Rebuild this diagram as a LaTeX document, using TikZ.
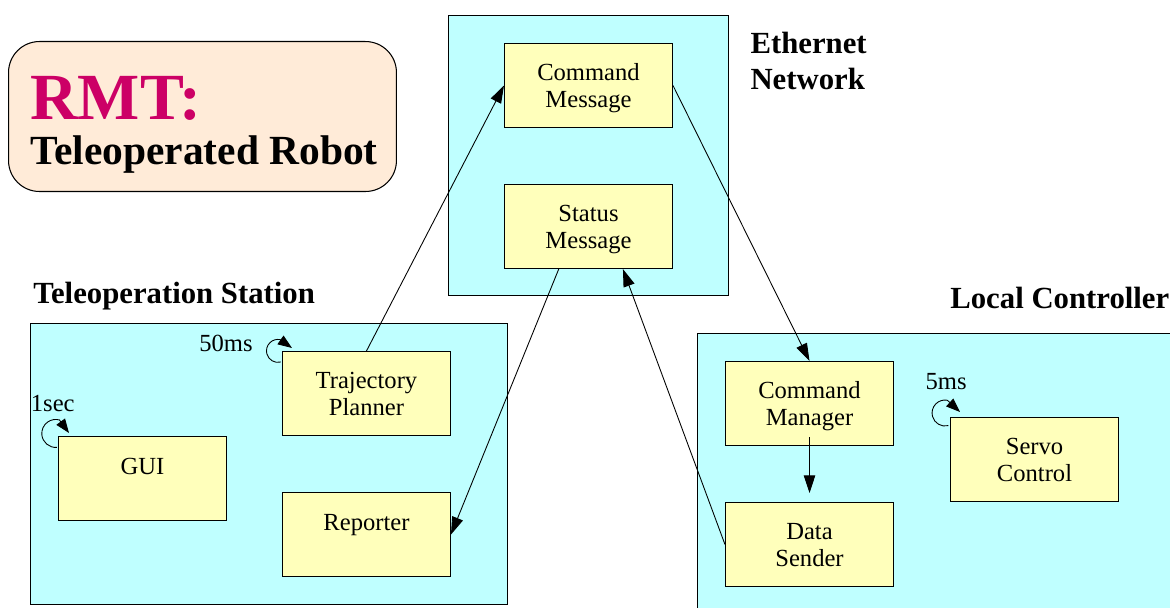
\documentclass[tikz,border=0pt]{standalone}
\usepackage{fontspec}
\setmainfont{Liberation Serif}
\usepackage{xcolor}
\usepackage{tikz}
\usetikzlibrary{positioning, arrows.meta}
\definecolor{netcyan}{RGB}{191,255,255}
\definecolor{taskyellow}{RGB}{255,255,187}
\definecolor{bannerpeach}{RGB}{255,235,216}
\definecolor{rmtmagenta}{RGB}{204,0,102}
\tikzset{
	node distance = 1.12cm,
	line width = .5pt,
	>={Triangle[length=10pt, width=6.5pt]},
	font = \fontsize{14}{15.5}\selectfont,
	region/.style={
		draw,
		fill=netcyan,
		line width=.7pt,
		anchor=north west,
		inner sep=0pt
	},
	banner/.style={
		draw,
		fill=bannerpeach,
		rounded corners=.62cm,
		line width=.6pt,
		anchor=north west,
		inner sep=0pt
	},
	task/.style={
		draw,
		fill=taskyellow,
		line width=.6pt,
		minimum width=3.36cm,
		minimum height=1.68cm,
		text height=28.2pt,
		text depth=3.2pt,
		align=center
	},
	single/.style={
		text height=10.2pt,
		text depth=15pt
	},
	heading/.style={
		font=\fontsize{17.5}{20.4}\selectfont\bfseries,
		inner sep=0pt
	},
	rate/.style={
		inner sep=0pt,
		anchor=base east
	},
	flow/.style={
		->,
		line width=.5pt
	},
	periodic/.style={
		-{Triangle[length=8pt, width=6pt]},
		line width=.5pt
	}
}

\begin{document}
\begin{tikzpicture}[x=0.02cm, y=-0.02cm]
\useasboundingbox (0,0) rectangle (1170,608);

% title
\node[banner, minimum width=7.76cm, minimum height=3cm] (banner) at (8,41) {};
\node[anchor=base west, inner sep=0pt, text=rmtmagenta, font=\fontsize{37.5}{40}\selectfont\bfseries] (rmt) at (30,120) {RMT:};
\node[anchor=base west, inner sep=0pt, font=\fontsize{23.6}{26}\selectfont\bfseries] (robot) at (30,165) {Teleoperated Robot};

% the three regions
\node[region, minimum width=5.6cm, minimum height=5.6cm] (net) at (448,15) {};
\node[region, minimum width=9.54cm, minimum height=5.62cm] (station) at (30,323) {};
\node[region, minimum width=10cm, minimum height=6cm] (local) at (697,333) {};

\node[heading, anchor=north west, align=left] (netlabel) at ([shift={(21,17)}]net.north east) {Ethernet\\Network};
\node[heading, anchor=base west] (stationlabel) at ([shift={(3,-20)}]station.north west) {Teleoperation Station};
\node[heading, anchor=base west] (locallabel) at ([shift={(253,-25)}]local.north west) {Local Controller};

% tasks
\node[task, below right=0.56cm and 1.12cm of net.north west] (cmdmsg) {Command\\Message};
\node[task, below=of cmdmsg] (statmsg) {Status\\Message};

\node[task, below right=0.56cm and 5.04cm of station.north west] (planner) {Trajectory\\Planner};
\node[task, single, below right=2.26cm and 0.56cm of station.north west] (gui) {GUI};
\node[task, single, below=of planner] (reporter) {Reporter};

\node[task, below right=0.56cm and 0.56cm of local.north west] (manager) {Command\\Manager};
\node[task, below=of manager] (sender) {Data\\Sender};
\node[task, below right=1.12cm and 1.12cm of manager.north east] (servo) {Servo\\Control};

% periods
\node[rate] (plannerrate) at ([shift={(-29,1)}]planner.north west) {50ms};
\node[rate] (guirate) at ([shift={(17,-24)}]gui.north west) {1sec};
\node[rate] (servorate) at ([shift={(17,-27)}]servo.north west) {5ms};

\draw[periodic] ([shift={(-1,11)}]planner.north west) arc[start angle=-75, end angle=-280, radius=0.23cm] -- ([shift={(10,-3)}]planner.north west);
\draw[periodic] ([shift={(-1,11.4)}]gui.north west) arc[start angle=-85, end angle=-285, radius=0.28cm] -- ([shift={(11,-3)}]gui.north west);
\draw[periodic] ([shift={(-1.6,8.6)}]servo.north west) arc[start angle=-75, end angle=-280, radius=0.26cm] -- ([shift={(10,-5)}]servo.north west);

% messages
\draw[flow] (planner.north) to (cmdmsg.west);
\draw[flow] (cmdmsg.east) to (manager.north);
\draw[flow] (statmsg.-125) to (reporter.east);
\draw[flow] (sender.west) to (statmsg.-51);
\draw[flow] ([yshift=0.18cm]manager.south) to ([yshift=0.18cm]sender.north);
\end{tikzpicture}
\end{document}
